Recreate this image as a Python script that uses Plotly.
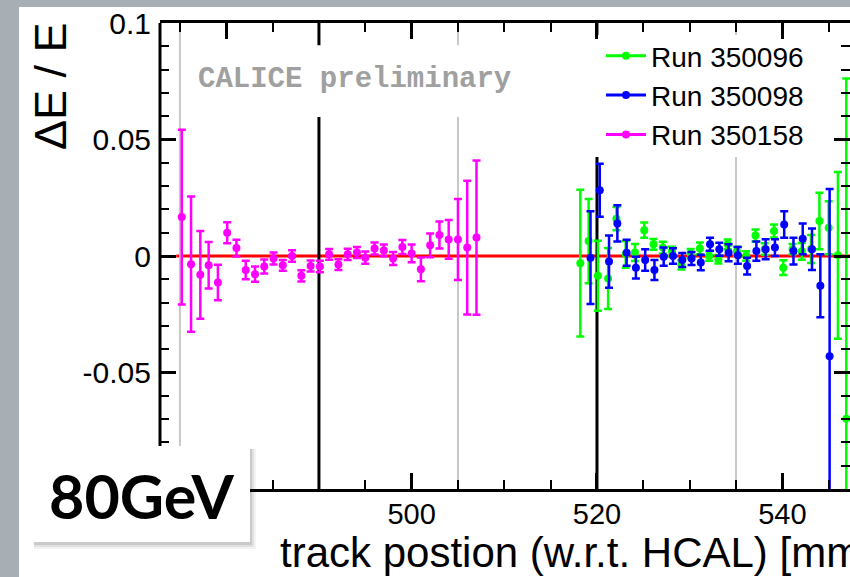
import plotly.graph_objects as go

# ---------------- data ----------------
# Run 350158 (magenta)
m_x = [475.2, 476.2, 477.2, 478.1, 479.1, 480.1, 481.1, 482.1, 483.1, 484.1, 485.1,
       486.1, 487.1, 488.1, 489.1, 490.1, 491.1, 492.1, 493.1, 494.1, 495.0, 496.0,
       497.0, 498.0, 499.0, 500.0, 501.0, 502.0, 503.0, 504.0, 505.0, 506.0, 507.0]
m_y = [0.0167, -0.0035, -0.0081, -0.0040, -0.0114, 0.0100, 0.0034, -0.0060, -0.0078,
       -0.0045, -0.0011, -0.0040, 0.0000, -0.0085, -0.0043, -0.0045, 0.0007, -0.0037,
       0.0007, 0.0015, -0.0007, 0.0032, 0.0024, -0.0011, 0.0039, 0.0011, -0.0057,
       0.0046, 0.0090, 0.0071, 0.0071, 0.0036, 0.0079]
m_err = [0.0375, 0.0290, 0.0188, 0.0100, 0.0076, 0.0045, 0.0036, 0.0040, 0.0033,
         0.0030, 0.0026, 0.0023, 0.0025, 0.0024, 0.0024, 0.0025, 0.0023, 0.0023,
         0.0024, 0.0024, 0.0026, 0.0026, 0.0025, 0.0028, 0.0030, 0.0038, 0.0051,
         0.0051, 0.0058, 0.0083, 0.0174, 0.0287, 0.0331]

# Run 350096 (green)
g_x = [518.2, 519.1, 520.1, 521.2, 522.1, 523.1, 524.1, 525.1, 526.1, 527.1, 528.1,
       529.1, 530.1, 531.1, 532.1, 533.1, 534.1, 535.1, 536.1, 537.1, 538.1, 539.1,
       540.1, 541.1, 542.1, 543.1, 544.0, 545.0, 546.0, 546.9]
g_y = [-0.0031, 0.0064, -0.0085, -0.0097, 0.0160, 0.0007, 0.0015, 0.0111, 0.0050,
       0.0036, 0.0020, -0.0038, 0.0010, 0.0032, 0.0000, -0.0014, 0.0050, 0.0020,
       0.0000, 0.0088, 0.0030, 0.0107, -0.0050, 0.0030, 0.0020, 0.0030, 0.0150,
       0.0121, 0.0003, -0.0698]
g_err = [0.0315, 0.0181, 0.0150, 0.0131, 0.0050, 0.0057, 0.0036, 0.0033, 0.0023,
         0.0025, 0.0020, 0.0020, 0.0020, 0.0026, 0.0020, 0.0018, 0.0021, 0.0020,
         0.0020, 0.0026, 0.0025, 0.0028, 0.0032, 0.0022, 0.0036, 0.0060, 0.0121,
         0.0114, 0.0358, 0.1460]

# Run 350098 (blue)
b_x = [519.3, 520.3, 521.3, 522.2, 523.2, 524.2, 525.2, 526.2, 527.2, 528.2, 529.2,
       530.2, 531.2, 532.2, 533.2, 534.2, 535.2, 536.2, 537.2, 538.2, 539.2, 540.2,
       541.2, 542.2, 543.2, 544.1, 545.1]
b_y = [-0.0007, 0.0282, -0.0024, 0.0140, 0.0014, -0.0050, -0.0017, -0.0060, -0.0003,
       0.0000, -0.0017, -0.0011, -0.0028, 0.0050, 0.0029, 0.0014, 0.0003, -0.0043,
       0.0021, 0.0029, 0.0036, 0.0135, 0.0021, 0.0074, 0.0029, -0.0128, -0.0430]
b_err = [0.0199, 0.0114, 0.0112, 0.0078, 0.0056, 0.0047, 0.0046, 0.0043, 0.0039,
         0.0033, 0.0030, 0.0028, 0.0033, 0.0028, 0.0028, 0.0036, 0.0036, 0.0036,
         0.0041, 0.0043, 0.0036, 0.0057, 0.0057, 0.0066, 0.0089, 0.0135, 0.0718]

run_names = ["Run 350096", "Run 350098", "Run 350158"]
run_colors = ["#00ff00", "#0000ff", "#ff00ff"]

y_tickvals = [-0.1, -0.05, 0, 0.05, 0.1]
y_ticktext = ["", "-0.05", "0", "0.05", "0.1"]

fit_range = [474.6, 548.0]           # red fit line at 0
black_lines = [490, 520]
gray_lines = [475, 505, 535]

FONT = "Liberation Sans, Arial, sans-serif"

fig = go.Figure()

series = [(g_x, g_y, g_err), (b_x, b_y, b_err), (m_x, m_y, m_err)]
for (xs, ys, es), name, col in zip(series, run_names, run_colors):
    fig.add_trace(go.Scatter(
        x=xs, y=ys, mode="markers", showlegend=False,
        marker=dict(color=col, size=8),
        error_y=dict(type="data", array=es, visible=True, color=col,
                     thickness=2.5, width=4),
    ))

# legend entries (line + marker)
for i, (name, col) in enumerate(zip(run_names, run_colors)):
    fig.add_trace(go.Scatter(
        x=[None], y=[None], mode="lines+markers", name=name,
        legendgroup=f"g{i}",
        line=dict(color=col, width=3), marker=dict(color=col, size=8),
    ))

shapes = []
# background card (white over grey slide)
shapes.append(dict(type="rect", xref="paper", yref="paper",
                   x0=-0.2043, x1=1.05, y0=-0.4, y1=1.0343,
                   fillcolor="white", line=dict(width=0), layer="below"))
# fit line
shapes.append(dict(type="line", xref="x", yref="y", x0=fit_range[0], x1=fit_range[1],
                   y0=0, y1=0, line=dict(color="#ff0000", width=3), layer="below"))
for gx in gray_lines:
    shapes.append(dict(type="line", xref="x", yref="y", x0=gx, x1=gx, y0=-0.1, y1=0.1,
                       line=dict(color="#c8c8c8", width=2), layer="below"))
for bx in black_lines:
    shapes.append(dict(type="line", xref="x", yref="y", x0=bx, x1=bx, y0=-0.1, y1=0.1,
                       line=dict(color="black", width=3), layer="below"))
# white panes (text pave and legend) hiding the upper parts of the lines
shapes.append(dict(type="rect", xref="x", yref="y", x0=475.8, x1=512, y0=0.0597, y1=0.0905,
                   fillcolor="white", line=dict(width=0), layer="below"))
shapes.append(dict(type="rect", xref="x", yref="y", x0=516, x1=548, y0=0.0425, y1=0.0948,
                   fillcolor="white", line=dict(width=0), layer="below"))
# left frame line (y axis line drawn separately so the right edge shows ticks only)
shapes.append(dict(type="line", xref="paper", yref="paper", x0=0, x1=0, y0=0, y1=1,
                   line=dict(color="black", width=3), layer="above"))
# 80GeV label box with soft shadow
bx0, bx1, by0, by1 = -0.18406, 0.13043, -0.11373, 0.09227
px_x, px_y = 1 / 690, 1 / 466
for k, a in [(6, 0.05), (4, 0.07), (2, 0.10)]:
    shapes.append(dict(type="rect", xref="paper", yref="paper",
                       x0=bx0 + 1 * px_x, x1=bx1 + k * px_x,
                       y0=by0 - (k + 1) * px_y, y1=by1 - 3 * px_y,
                       fillcolor=f"rgba(0,0,0,{a})", line=dict(width=0), layer="above"))
shapes.append(dict(type="rect", xref="paper", yref="paper",
                   x0=bx0, x1=bx1, y0=by0, y1=by1,
                   fillcolor="white", line=dict(width=0), layer="above"))

annotations = [
    dict(text="\u0394E / E", xref="paper", yref="paper", x=-0.1594, y=1.0064,
         xanchor="center", yanchor="top", textangle=-90, showarrow=False,
         font=dict(family=FONT, size=45, color="black")),
    dict(text="track postion (w.r.t. HCAL) [mm]", xref="paper", yref="paper",
         x=0.171, y=-0.1373, xanchor="left", yanchor="middle", showarrow=False,
         font=dict(family=FONT, size=42, color="black")),
    dict(text="CALICE preliminary", xref="paper", yref="paper", x=0.2826, y=0.8798,
         xanchor="center", yanchor="middle", showarrow=False,
         font=dict(family="Liberation Mono, Courier New, monospace", size=29,
                   color="#a0a0a0", weight="bold")),
    dict(text="<b>80GeV</b>", xref="paper", yref="paper", x=-0.0275, y=-0.015,
         xanchor="center", yanchor="middle", showarrow=False,
         font=dict(family="Lato, Open Sans, sans-serif", size=61, color="black")),
]

fig.update_layout(
    width=850, height=577,
    margin=dict(l=160, r=0, t=23, b=88),
    paper_bgcolor="#a7aeb4", plot_bgcolor="white",
    shapes=shapes, annotations=annotations,
    showlegend=True,
    legend=dict(x=(601 - 160) / 690, y=(489 - 31) / 466, xanchor="left", yanchor="top",
                bgcolor="rgba(0,0,0,0)", font=dict(family=FONT, size=28, color="black"),
                tracegroupgap=0, itemwidth=40),
    xaxis=dict(range=[472.85, 547.3], tickmode="linear", tick0=480, dtick=20,
               ticks="inside", ticklen=16, tickwidth=2.5, tickcolor="black",
               showline=True, linewidth=3, linecolor="black", mirror="ticks",
               showgrid=False, zeroline=False, ticklabelstandoff=-3,
               tickfont=dict(family=FONT, size=29, color="black"),
               minor=dict(tick0=480, dtick=5, ticks="inside", ticklen=9, tickwidth=2,
                          tickcolor="black", showgrid=False)),
    yaxis=dict(range=[-0.1, 0.1], tickmode="array", tickvals=y_tickvals, ticktext=y_ticktext,
               ticks="inside", ticklen=16, tickwidth=2.5, tickcolor="black",
               showline=False, mirror="ticks",
               showgrid=False, zeroline=False, ticklabelstandoff=8,
               tickfont=dict(family=FONT, size=30, color="black"),
               minor=dict(tick0=0, dtick=0.01, ticks="inside", ticklen=9, tickwidth=2,
                          tickcolor="black", showgrid=False)),
)

fig.write_html("out.html")
